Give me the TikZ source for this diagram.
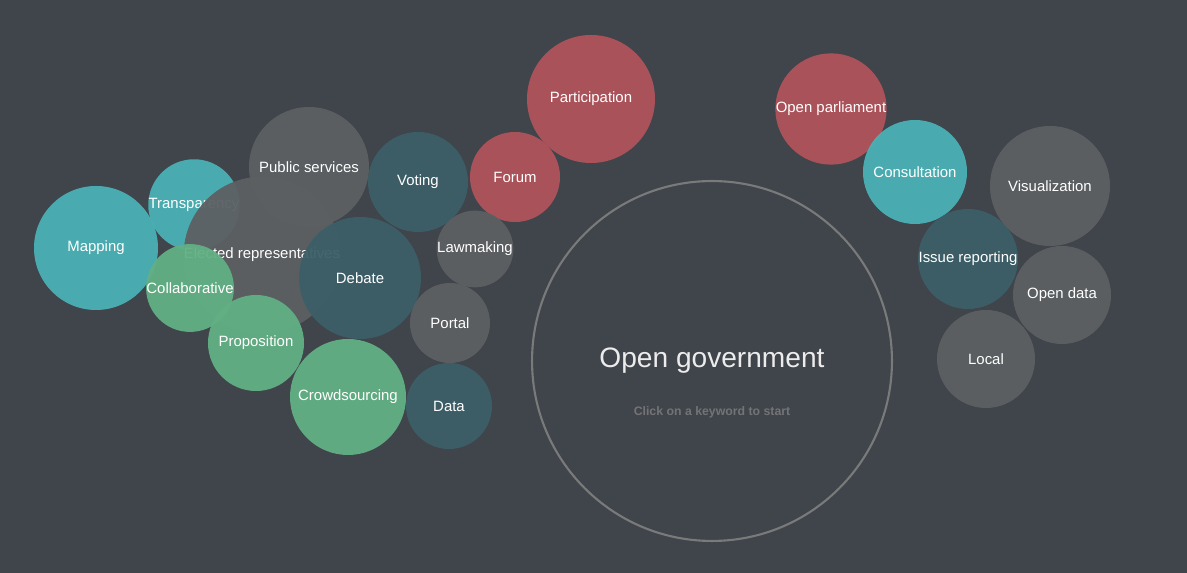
\documentclass[tikz,border=0pt]{standalone}
\usepackage{fontspec}
\setmainfont{Liberation Sans}
\definecolor{bg}{HTML}{40444B}
\definecolor{cred}{HTML}{B0535A}
\definecolor{cteal}{HTML}{4AB1B5}
\definecolor{cdark}{HTML}{3C5F68}
\definecolor{cgray}{HTML}{5C6063}
\definecolor{cgreen}{HTML}{62B084}
\tikzset{
  bubble/.style={circle,inner sep=0pt,text=white,font=\fontsize{8.5}{10}\selectfont,fill opacity=0.95,text opacity=1},
}
\begin{document}
\begin{tikzpicture}[x=0.02cm,y=-0.02cm]
  \fill[bg] (0,0) rectangle (1187,573);
  % keyword bubbles
  \foreach \n/\x/\y/\r/\c/\t in {
      part/591/99/64/cred/Participation,
      opar/831/109/53/cred/Open parliament,
      cons/915/172/52/cteal/Consultation,
      visu/1050/186/60/cgray/Visualization,
      issu/968/259/50/cdark/Issue reporting,
      odat/1062/295/49/cgray/Open data,
      locl/986/359/49/cgray/Local,
      forum/515/177/45/cred/Forum,
      vote/418/182/50/cdark/Voting,
      pubs/309/167/60/cgray/Public services,
      lawm/475/249/37/cgray/Lawmaking,
      mapp/96/248/62/cteal/Mapping,
      tran/194/205/44/cteal/Transparency,
      elec/262/255/40/cgray/Elected representatives,
      coll/190/288/38/cgreen/Collaborative,
      deba/360/278/61/cdark/Debate,
      port/450/323/40/cgray/Portal,
      prop/256/343/48/cgreen/Proposition,
      crow/348/397/58/cgreen/Crowdsourcing,
      data/449/406/43/cdark/Data}
    \node[bubble,fill=\c,minimum size=2*\r*0.02cm] (\n) at (\x,\y) {\t};
  % centre
  \node[circle,draw=gray!90!bg,line width=1.2pt,minimum size=7.2cm] (gov) at (712,361) {};
  \node[text=white!90!bg,font=\fontsize{16}{18}\selectfont] (title) at (712,361) {Open government};
  \node[text=gray!80!bg,font=\bfseries\fontsize{7}{8}\selectfont] (hint) at (712,412) {Click on a keyword to start};
\end{tikzpicture}
\end{document}
